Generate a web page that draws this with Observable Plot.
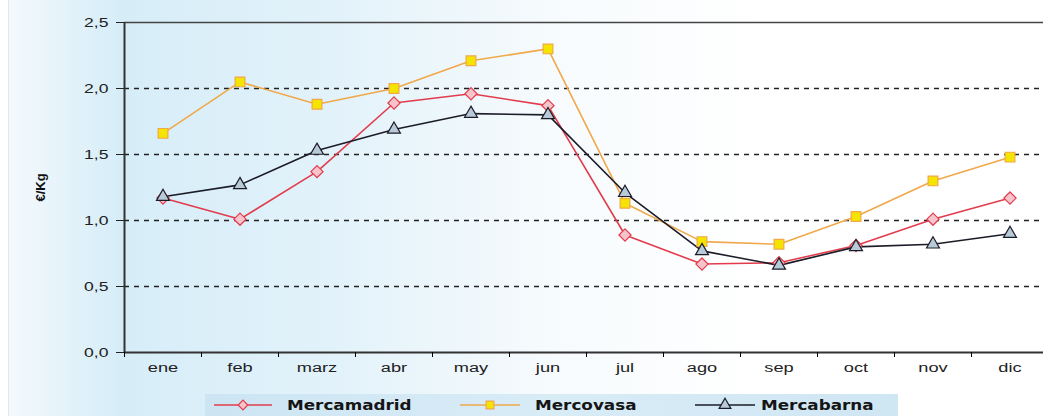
<!DOCTYPE html>
<html><head><meta charset="utf-8">
<script src="https://cdn.jsdelivr.net/npm/d3@7"></script>
<script src="https://cdn.jsdelivr.net/npm/@observablehq/plot@0.6"></script>
<style>
html,body{margin:0;padding:0;background:#fff;}
#wrap{position:relative;width:1043px;height:416px;overflow:hidden;
 background:linear-gradient(to right,#ffffff 0px,#ffffff 8px,#d0d4d8 8px,#f4f9fc 9px,#d6edf8 120px,#e2f2fa 330px,#f7fbfd 560px,#ffffff 760px);
 font-family:"Liberation Sans",Arial,sans-serif;}
#chart{position:absolute;left:0;top:0;}
#legend{position:absolute;left:205px;top:394px;width:693px;height:22px;
 background:linear-gradient(to right,#cde5f3,#d8ecf6 50%,#cfe6f3);}
.icon{position:absolute;top:1px;}
.lt{position:absolute;top:1px;font-family:"DejaVu Sans",sans-serif;font-weight:bold;font-size:14px;color:#151515;
 transform-origin:0 50%;white-space:nowrap;line-height:20px;}
</style></head>
<body><div id="wrap"><div id="chart"></div>
<div id="legend"></div></div>
<script>
const months = ["ene","feb","marz","abr","may","jun","jul","ago","sep","oct","nov","dic"];
const seriesNames = ["Mercamadrid","Mercovasa","Mercabarna"];
const mercamadrid = [1.17,1.01,1.37,1.89,1.96,1.87,0.89,0.67,0.68,0.81,1.01,1.17];
const mercovasa  = [1.66,2.05,1.88,2.00,2.21,2.30,1.13,0.84,0.82,1.03,1.30,1.48];
const mercabarna = [1.18,1.27,1.53,1.69,1.81,1.80,1.21,0.77,0.66,0.80,0.82,0.90];
const yTicks = [0,0.5,1.0,1.5,2.0,2.5];
const gridTicks = [0.5,1.0,1.5,2.0];

const styles = {
  Mercamadrid:{stroke:"#e23c4c", fill:"#f8c4cc", symbol:"diamond2", r:5.5},
  Mercovasa:{stroke:"#f0a84a", fill:"#f4e400", symbol:"square", r:5.5},
  Mercabarna:{stroke:"#1c1c28", fill:"#b8cad8", symbol:"triangle", r:4.8}
};
const vals = {Mercamadrid:mercamadrid, Mercovasa:mercovasa, Mercabarna:mercabarna};
const data = seriesNames.map(s => vals[s].map((v,i)=>({s, i, v})));

const marks = [
  Plot.ruleY(gridTicks,{stroke:"#222",strokeDasharray:"5,5",strokeWidth:1.3}),
  Plot.ruleY([2.5],{stroke:"#444",strokeWidth:1.5}),
  Plot.ruleY([0],{stroke:"#333",strokeWidth:2}),
  Plot.ruleX([-0.5],{stroke:"#333",strokeWidth:2}),
  Plot.axisY({ticks:yTicks, tickFormat:d=>d.toFixed(1).replace(".",","), tickSize:8, tickPadding:8, fontSize:13, label:null, color:"#222"}),
  Plot.axisX({ticks:d3.range(-0.5,12,1), tickFormat:()=>"", tickSize:5, label:null}),
  Plot.axisX({ticks:d3.range(0,12), tickFormat:i=>months[i], tickSize:0, tickPadding:10, fontSize:13.5, label:null, color:"#222"}),
  Plot.text(["€/Kg"],{frameAnchor:"left", dx:-84, rotate:-90, textAnchor:"middle", fontWeight:"bold", fontSize:13, fill:"#111"})
];
for (const d of data) {
  const st = styles[d[0].s];
  marks.push(Plot.line(d,{x:"i",y:"v",stroke:st.stroke,strokeWidth:1.6}));
}
for (const d of data) {
  const st = styles[d[0].s];
  marks.push(Plot.dot(d,{x:"i",y:"v",symbol:()=>st.symbol,fill:st.fill,stroke:st.stroke,strokeWidth:1.2,r:st.r}));
}

const chart = Plot.plot({
  width:1043, height:392,
  marginLeft:124, marginRight:0, marginTop:22, marginBottom:40,
  style:{background:"transparent", fontFamily:"Liberation Sans, Arial, sans-serif", overflow:"visible"},
  x:{domain:[-0.5,11.5], range:[124,1048]},
  y:{domain:[0,2.5]},
  symbol:{type:"identity"},
  marks
});
document.getElementById("chart").appendChild(chart);

// widen axis tick labels horizontally, like the reference's stretched type
d3.select(chart).selectAll('g[aria-label="x-axis tick label"] text, g[aria-label="y-axis tick label"] text').each(function(){
  const t = this.getAttribute("transform") || "";
  this.setAttribute("transform", t + " scale(1.35,1)");
});

// legend
const leg = document.getElementById("legend");
const symMap = {diamond2:d3.symbolDiamond2, square:d3.symbolSquare, triangle:d3.symbolTriangle};
const legendLayout = [[9,58,82,1.2],[255,60,330,1.2],[490,60,556,1.2]];
seriesNames.forEach((s,k)=>{
  const st = styles[s];
  const [ix,w,tx,sc] = legendLayout[k];
  const sym = d3.symbol(symMap[st.symbol], 60);
  const icon = document.createElement("div");
  icon.className = "icon"; icon.style.left = ix+"px";
  icon.innerHTML = `<svg width="${w}" height="20"><line x1="0" x2="${w}" y1="10" y2="10" stroke="${st.stroke}" stroke-width="1.6"/><path transform="translate(${w/2},10)" d="${sym()}" fill="${st.fill}" stroke="${st.stroke}" stroke-width="1.2"/></svg>`;
  leg.appendChild(icon);
  const t = document.createElement("div");
  t.className = "lt"; t.style.left = tx+"px"; t.style.transform = `scaleX(${sc})`;
  t.textContent = s;
  leg.appendChild(t);
});
</script></body></html>
